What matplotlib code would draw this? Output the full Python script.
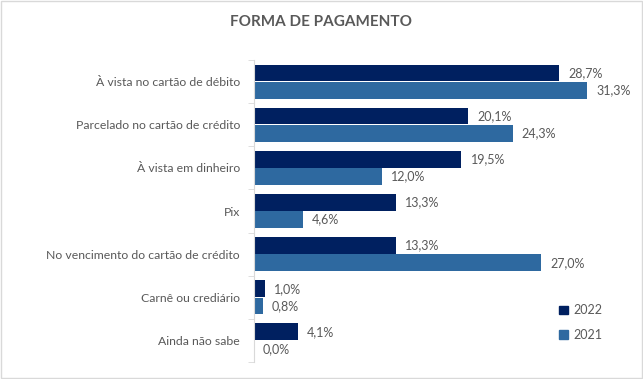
import numpy as np
import matplotlib.pyplot as plt
from matplotlib.patches import Patch, Rectangle

plt.rcParams['font.family'] = ['Lato', 'DejaVu Sans']

categories = ['À vista no cartão de débito', 'Parcelado no cartão de crédito',
              'À vista em dinheiro', 'Pix', 'No vencimento do cartão de crédito',
              'Carnê ou crediário', 'Ainda não sabe']
vals_2022 = [28.7, 20.1, 19.5, 13.3, 13.3, 1.0, 4.1]
vals_2021 = [31.3, 24.3, 12.0, 4.6, 27.0, 0.8, 0.0]
series_labels = ['2022', '2021']

c22 = '#002060'
c21 = '#2E69A0'
txt = '#595959'

fig = plt.figure(figsize=(6.43, 3.79), dpi=100)
ax = fig.add_axes([254 / 643, 1 - 362 / 379, (620 - 254) / 643, (362 - 60) / 379])

y = np.arange(len(categories))
h = 0.385
ax.barh(y - 0.2, vals_2022, height=h, color=c22)
ax.barh(y + 0.2, vals_2021, height=h, color=c21)

for yi, v in zip(y, vals_2022):
    ax.text(v + 0.85, yi - 0.2, f'{v:.1f}%'.replace('.', ','), va='center', ha='left',
            fontsize=9, color=txt)
for yi, v in zip(y, vals_2021):
    ax.text(v + 0.85, yi + 0.2, f'{v:.1f}%'.replace('.', ','), va='center', ha='left',
            fontsize=9, color=txt)

ax.set_xlim(0, (620 - 254) / 10.64)
ax.set_ylim(len(categories) - 0.5, -0.5)
ax.set_xticks([])
ax.set_yticks(y)
ax.set_yticklabels(categories, fontsize=8.8, color=txt)
ax.set_yticks(np.arange(-0.5, len(categories)), minor=True)
ax.tick_params(axis='y', which='major', length=0, pad=10)
ax.tick_params(axis='y', which='minor', length=4, color='#D9D9D9')
for s in ['top', 'right', 'bottom']:
    ax.spines[s].set_visible(False)
ax.spines['left'].set_color('#D9D9D9')

fig.text(0.5, 1 - 22 / 379, 'FORMA DE PAGAMENTO', ha='center', va='center',
         fontsize=11, fontweight='bold', color=txt)

handles = [Patch(color=c22), Patch(color=c21)]
fig.legend(handles, series_labels, loc='upper left', bbox_to_anchor=(548 / 643, 1 - 293 / 379),
           frameon=False, fontsize=9, handlelength=0.7, handleheight=0.7,
           handletextpad=0.4, labelspacing=1.0, labelcolor=txt)

fig.patches.append(Rectangle((0.001, 0.002), 0.997, 0.995, transform=fig.transFigure,
                             fill=False, edgecolor='#D9D9D9', linewidth=1))

fig.savefig('out.png', dpi=100)
